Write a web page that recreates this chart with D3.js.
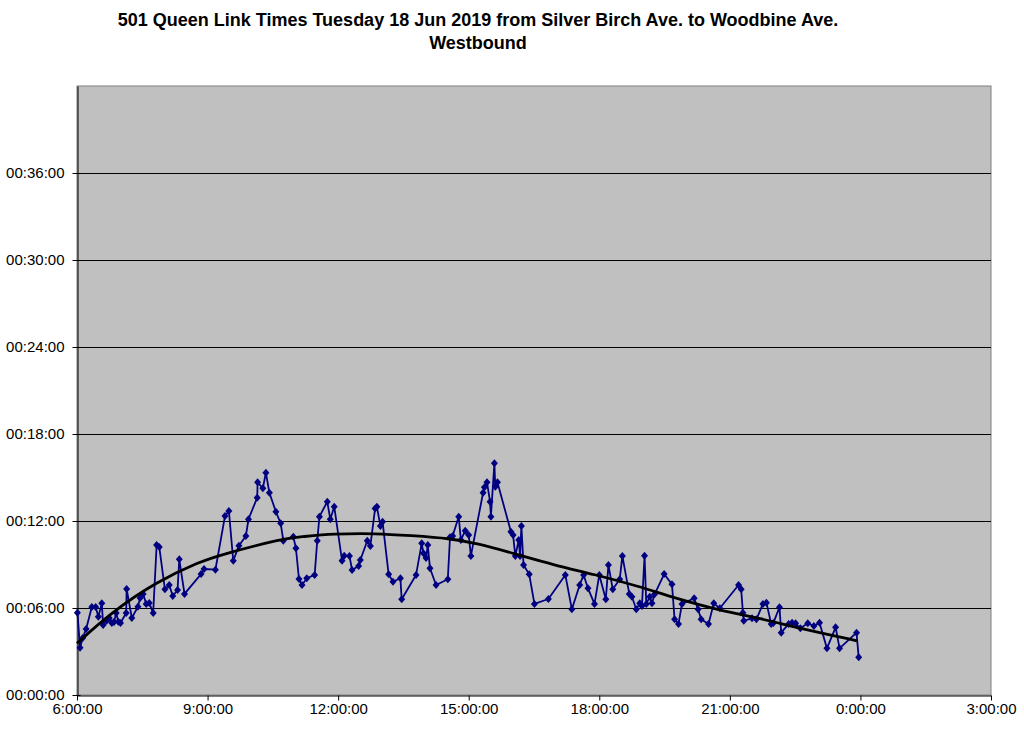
<!DOCTYPE html>
<html>
<head>
<meta charset="utf-8">
<script src="https://cdn.jsdelivr.net/npm/d3@7"></script>
<style>
  html, body { margin: 0; padding: 0; background: #ffffff; }
  svg { display: block; font-family: Arial, "Liberation Sans", sans-serif; }
</style>
</head>
<body>
<svg id="chart" width="1024" height="737"></svg>
<script>
// Title
const titleLines = [
  "501 Queen Link Times Tuesday 18 Jun 2019 from Silver Birch Ave. to Woodbine Ave.",
  "Westbound"
];

// Observed trips: departure time (decimal hours, 24+ = after midnight) and link time (minutes)
const tripTimes = [
  6.01, 6.07, 6.13, 6.21, 6.34, 6.43, 6.49, 6.57, 6.60, 6.68, 6.74, 6.80, 6.85, 6.90, 6.95, 7.00,
  7.13, 7.14, 7.26, 7.40, 7.45, 7.52, 7.59, 7.66, 7.75, 7.83, 7.89, 8.02, 8.12, 8.20, 8.31, 8.35,
  8.47, 8.85, 8.92, 9.18, 9.40, 9.49, 9.59, 9.72, 9.88, 9.94, 10.14, 10.15, 10.27, 10.34, 10.42,
  10.57, 10.68, 10.74, 10.97, 11.03, 11.10, 11.17, 11.28, 11.46, 11.52, 11.57, 11.75, 11.82, 11.91,
  12.09, 12.14, 12.26, 12.32, 12.47, 12.51, 12.67, 12.74, 12.85, 12.89, 12.97, 13.02, 13.16, 13.26,
  13.43, 13.46, 13.79, 13.92, 13.96, 14.02, 14.06, 14.11, 14.25, 14.52, 14.57, 14.63, 14.77, 14.82,
  14.92, 15.00, 15.05, 15.33, 15.36, 15.42, 15.49, 15.51, 15.59, 15.61, 15.66, 15.97, 16.02, 16.07,
  16.15, 16.18, 16.21, 16.26, 16.39, 16.51, 16.83, 17.22, 17.37, 17.55, 17.64, 17.74, 17.89, 18.00,
  18.15, 18.21, 18.31, 18.47, 18.53, 18.69, 18.75, 18.85, 18.93, 18.98, 19.04, 19.08, 19.16, 19.21,
  19.27, 19.49, 19.67, 19.73, 19.82, 19.90, 20.18, 20.27, 20.34, 20.51, 20.63, 20.77, 21.20, 21.26,
  21.30, 21.32, 21.51, 21.61, 21.76, 21.84, 21.95, 22.00, 22.14, 22.18, 22.35, 22.43, 22.51, 22.62,
  22.79, 22.93, 23.06, 23.23, 23.43, 23.52, 23.91, 23.96
];
const linkMinutes = [
  5.68, 3.26, 3.93, 4.55, 6.07, 6.07, 5.40, 6.32, 4.83, 5.12, 5.31, 4.97, 5.03, 5.66, 5.06, 4.97,
  5.66, 7.31, 5.31, 6.09, 6.69, 6.97, 6.28, 6.34, 5.66, 10.34, 10.21, 7.29, 7.59, 6.83, 7.24, 9.36,
  6.97, 8.34, 8.69, 8.64, 12.34, 12.69, 9.26, 10.30, 10.97, 12.12, 13.61, 14.67, 14.26, 15.33, 13.95,
  12.64, 11.84, 10.64, 10.92, 10.12, 8.00, 7.59, 8.05, 8.28, 10.64, 12.30, 13.33, 12.12, 12.99,
  9.26, 9.61, 9.59, 8.62, 8.90, 9.31, 10.64, 10.28, 12.87, 12.99, 11.66, 11.95, 8.32, 7.81,
  8.05, 6.60, 8.28, 10.46, 9.77, 9.45, 10.34, 8.74, 7.59, 7.98, 10.88, 10.97, 12.30, 10.69,
  11.33, 11.03, 9.59, 13.95, 14.32, 14.67, 13.33, 12.30, 15.98, 14.37, 14.67, 11.26, 11.03, 9.59,
  10.69, 9.59, 11.66, 8.97, 8.32, 6.28, 6.62, 8.28, 5.91, 7.59, 8.28, 7.36, 6.28, 8.28,
  6.60, 8.97, 7.29, 7.98, 9.59, 6.97, 6.78, 5.91, 6.32, 6.14, 9.61, 6.28, 6.78, 6.32,
  6.94, 8.34, 7.63, 5.22, 4.90, 6.28, 6.67, 5.91, 5.22, 4.90, 6.32, 5.98, 7.59, 7.29,
  5.68, 5.12, 5.29, 5.22, 6.28, 6.37, 4.90, 4.97, 6.05, 4.30, 4.90, 4.99, 4.94, 4.60,
  4.94, 4.76, 4.99, 3.22, 4.67, 3.22, 4.30, 2.60
];

// Trend line (polynomial trendline as drawn)
const trendTimes   = [6.00, 6.76, 7.83, 8.83, 9.29, 10.74, 11.13, 11.89, 12.89, 13.66, 14.57, 15.19, 16.03, 16.95, 17.87, 18.94, 19.63, 20.78, 21.70, 22.62, 23.92];
const trendMinutes = [3.56, 5.63, 7.82, 9.20, 9.66, 10.80, 10.90, 11.12, 11.15, 10.99, 10.80, 10.46, 9.77, 8.97, 8.33, 7.47, 6.78, 5.82, 5.29, 4.58, 3.74];

// Axis ticks
const xTicks = [6, 9, 12, 15, 18, 21, 24, 27];
const yTicks = [0, 6, 12, 18, 24, 30, 36];

const svg = d3.select("#chart");
const M = { left: 77, right: 991, top: 86, bottom: 695 };

const x = d3.scaleLinear().domain([6, 27]).range([M.left, M.right]);
const y = d3.scaleLinear().domain([0, 42]).range([M.bottom, M.top]);

// Title
svg.append("g").selectAll("text").data(titleLines).join("text")
  .attr("x", 478).attr("y", (d, i) => 26 + i * 23)
  .attr("text-anchor", "middle")
  .attr("font-weight", "bold").attr("font-size", 18)
  .attr("fill", "#000")
  .text(d => d);

// Plot area
svg.append("rect")
  .attr("x", M.left).attr("y", M.top)
  .attr("width", M.right - M.left).attr("height", M.bottom - M.top)
  .attr("fill", "#c0c0c0").attr("stroke", "#808080").attr("stroke-width", 1);

// Gridlines
svg.append("g").selectAll("line").data(yTicks.filter(d => d > 0)).join("line")
  .attr("x1", M.left).attr("x2", M.right)
  .attr("y1", d => Math.round(y(d)) + 0.5).attr("y2", d => Math.round(y(d)) + 0.5)
  .attr("stroke", "#000").attr("stroke-width", 1);

const fmtX = d => (d % 24) + ":00:00";
const fmtY = d => "00:" + String(d).padStart(2, "0") + ":00";

// Y axis
const yAxis = svg.append("g").attr("transform", `translate(${M.left + 0.5},0)`)
  .call(d3.axisLeft(y).tickValues(yTicks).tickFormat(fmtY).tickSizeInner(5).tickSizeOuter(0).tickPadding(8));
yAxis.select(".domain").attr("stroke", "#000");
yAxis.selectAll(".tick line").attr("x2", -5).attr("x1", 3).attr("stroke", "#000");
yAxis.selectAll("text").attr("font-size", 15).attr("font-family", "Arial, 'Liberation Sans', sans-serif").attr("fill", "#000").attr("x", -13);

// X axis
const xAxis = svg.append("g").attr("transform", `translate(0,${M.bottom + 0.5})`)
  .call(d3.axisBottom(x).tickValues(xTicks).tickFormat(fmtX).tickSizeInner(5).tickSizeOuter(0).tickPadding(3));
xAxis.select(".domain").attr("stroke", "#000");
xAxis.selectAll(".tick line").attr("stroke", "#000");
xAxis.selectAll("text").attr("font-size", 15).attr("font-family", "Arial, 'Liberation Sans', sans-serif").attr("fill", "#000");

// Series
const pts = tripTimes.map((t, i) => ({ t, m: linkMinutes[i] }));
const line = d3.line().x(d => x(d.t)).y(d => y(d.m));
svg.append("path").datum(pts)
  .attr("d", line).attr("fill", "none")
  .attr("stroke", "#000080").attr("stroke-width", 1.8).attr("stroke-linejoin", "round");

const diamond = "M0,-4L3.5,0L0,4L-3.5,0Z";
svg.append("g").selectAll("path").data(pts).join("path")
  .attr("transform", d => `translate(${x(d.t)},${y(d.m)})`)
  .attr("d", diamond)
  .attr("fill", "#000080");

// Trend
const trend = trendTimes.map((t, i) => ({ t, m: trendMinutes[i] }));
svg.append("path").datum(trend)
  .attr("d", d3.line().x(d => x(d.t)).y(d => y(d.m)).curve(d3.curveBasis))
  .attr("fill", "none").attr("stroke", "#000").attr("stroke-width", 2.8);
</script>
</body>
</html>
